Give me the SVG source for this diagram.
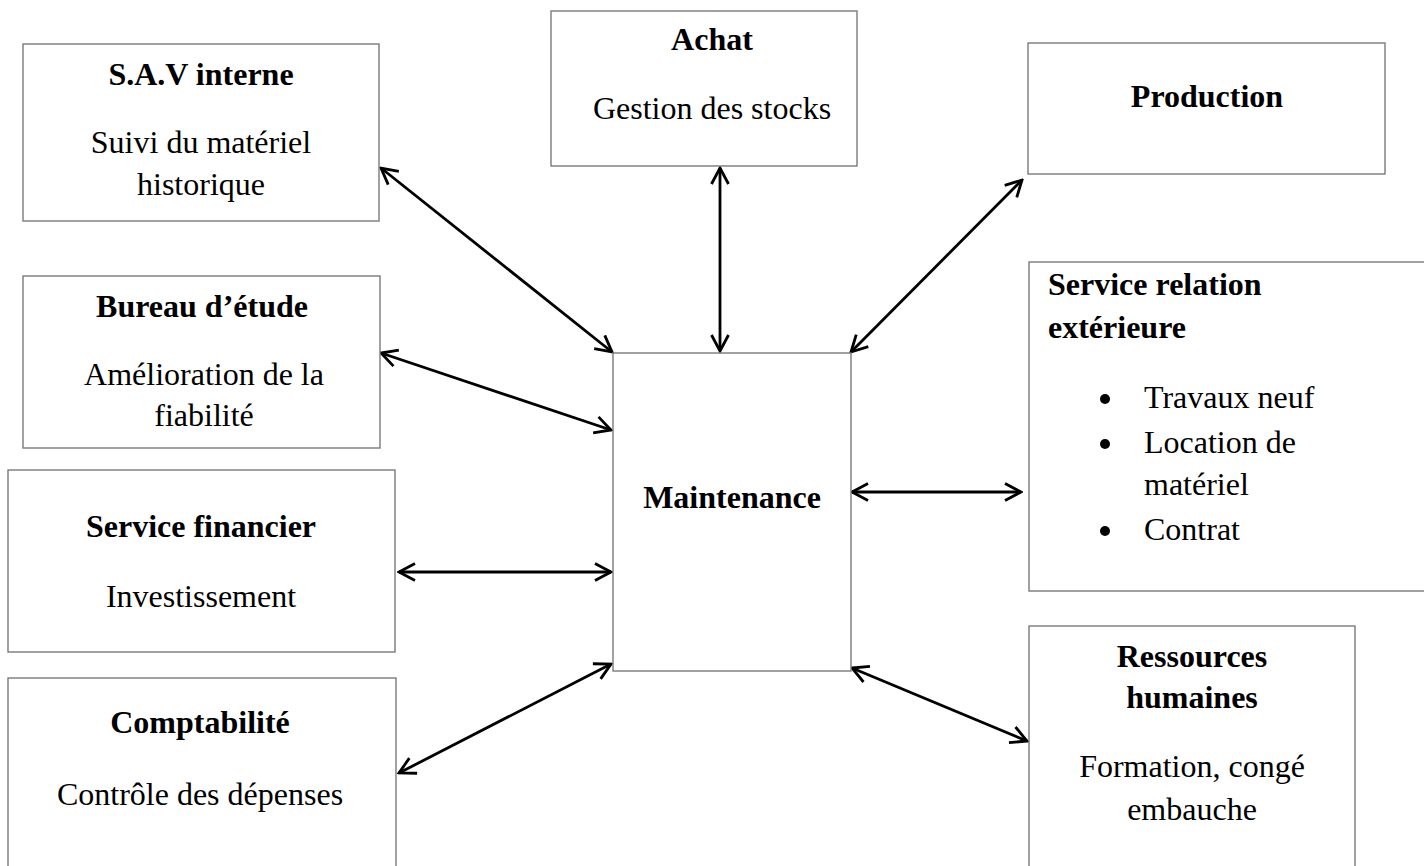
<svg xmlns="http://www.w3.org/2000/svg" width="1424" height="866" viewBox="0 0 1424 866">
  <style>
    .box { fill: #ffffff; stroke: #7a7a7a; stroke-width: 1.4; }
    .t { font-family: "Liberation Serif", "Times New Roman", serif; font-size: 32px; fill: #000; }
    .b { font-weight: bold; }
    .c { text-anchor: middle; }
    .link { stroke: #000; stroke-width: 2.8; fill: none; marker-start: url(#head); marker-end: url(#head); }
  </style>
  <defs>
    <marker id="head" viewBox="-18 -11 20 22" refX="0" refY="0" markerWidth="20" markerHeight="22" markerUnits="userSpaceOnUse" orient="auto-start-reverse">
      <path d="M-16,-8.5 L0,0 L-16,8.5" fill="none" stroke="#000" stroke-width="2.8" stroke-linejoin="miter"/>
    </marker>
  </defs>
  <rect width="1424" height="866" fill="#ffffff"/>

  <g id="connectors">
    <line class="link" x1="381" y1="168" x2="612" y2="352"/>
    <line class="link" x1="720" y1="168" x2="720" y2="351"/>
    <line class="link" x1="1022" y1="180" x2="851" y2="352"/>
    <line class="link" x1="381" y1="353" x2="611" y2="430"/>
    <line class="link" x1="399" y1="572" x2="611" y2="572"/>
    <line class="link" x1="399" y1="773" x2="611" y2="664"/>
    <line class="link" x1="852" y1="492" x2="1021" y2="492"/>
    <line class="link" x1="852" y1="668" x2="1027" y2="741"/>
  </g>

  <g id="sav">
    <rect class="box" x="23" y="44" width="356" height="177"/>
    <text class="t b c" x="201" y="85">S.A.V interne</text>
    <text class="t c" x="201" y="153">Suivi du matériel</text>
    <text class="t c" x="201" y="195">historique</text>
  </g>

  <g id="achat">
    <rect class="box" x="551" y="11" width="306" height="155"/>
    <text class="t b c" x="712" y="50">Achat</text>
    <text class="t c" x="712" y="119">Gestion des stocks</text>
  </g>

  <g id="production">
    <rect class="box" x="1028" y="43" width="357" height="131"/>
    <text class="t b c" x="1207" y="107">Production</text>
  </g>

  <g id="bureau">
    <rect class="box" x="23" y="276" width="357" height="172"/>
    <text class="t b c" x="202" y="317">Bureau d’étude</text>
    <text class="t c" x="204" y="385">Amélioration de la</text>
    <text class="t c" x="204" y="426">fiabilité</text>
  </g>

  <g id="maintenance">
    <rect class="box" x="613" y="353" width="238" height="318"/>
    <text class="t b c" x="732" y="508">Maintenance</text>
  </g>

  <g id="relation">
    <rect class="box" x="1029" y="262" width="400" height="329"/>
    <text class="t b" x="1048" y="295">Service relation</text>
    <text class="t b" x="1048" y="338">extérieure</text>
    <circle cx="1105" cy="399" r="5"/>
    <text class="t" x="1144" y="408">Travaux neuf</text>
    <circle cx="1105" cy="444" r="5"/>
    <text class="t" x="1144" y="453">Location de</text>
    <text class="t" x="1144" y="495">matériel</text>
    <circle cx="1105" cy="531" r="5"/>
    <text class="t" x="1144" y="540">Contrat</text>
  </g>

  <g id="financier">
    <rect class="box" x="8" y="470" width="387" height="182"/>
    <text class="t b c" x="201" y="537">Service financier</text>
    <text class="t c" x="201" y="607">Investissement</text>
  </g>

  <g id="comptabilite">
    <rect class="box" x="8" y="678" width="388" height="200"/>
    <text class="t b c" x="200" y="733">Comptabilité</text>
    <text class="t c" x="200" y="805">Contrôle des dépenses</text>
  </g>

  <g id="rh">
    <rect class="box" x="1029" y="626" width="326" height="252"/>
    <text class="t b c" x="1192" y="667">Ressources</text>
    <text class="t b c" x="1192" y="708">humaines</text>
    <text class="t c" x="1192" y="777">Formation, congé</text>
    <text class="t c" x="1192" y="820">embauche</text>
  </g>
</svg>
